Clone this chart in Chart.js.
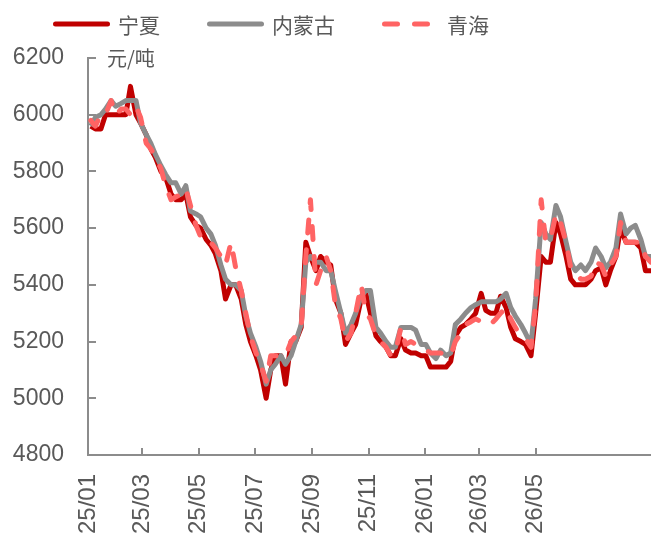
<!DOCTYPE html>
<html>
<head>
<meta charset="utf-8">
<script src="https://cdn.jsdelivr.net/npm/chart.js@4.4.1/dist/chart.umd.min.js"></script>
<style>
    html, body { margin: 0; padding: 0; background: #fff; }
    #wrap { width: 651px; height: 540px; position: relative; }
</style>
</head>
<body>
<div id="wrap"><canvas id="chart1"></canvas></div>
<script>
// days since 2025-01-01
var dayIndex = [
    3, 8, 14, 19, 25, 30, 36, 41, 46, 52, 57, 63, 68, 73, 79, 84, 90, 95, 101, 106,
    111, 117, 122, 128, 133, 138, 144, 149, 155, 160, 166, 171, 176, 182, 187, 193, 198, 203, 209, 214,
    220, 225, 231, 236, 241, 247, 252, 258, 263, 268, 274, 279, 285, 290, 296, 301, 306, 312, 317, 323,
    328, 333, 339, 344, 350, 355, 361, 366, 371, 377, 382, 388, 393, 398, 404, 409, 415, 420, 426, 431,
    436, 442, 447, 453, 458, 463, 469, 474, 480, 485, 491, 496, 501, 507, 512, 518, 523, 528, 534, 539,
    545, 550, 556, 561, 566, 572, 577, 583, 588, 593, 599, 604, 610
];

var ningxia = [
    5960, 5950, 5950, 6000, 6000, 6000, 6000, 6000, 6100, 6000, 5970, 5930, 5880, 5850, 5800, 5780, 5720, 5700, 5700, 5720,
    5640, 5610, 5600, 5560, 5540, 5510, 5450, 5350, 5400, 5400, 5350, 5260, 5200, 5150, 5100, 5000, 5100, 5150, 5150, 5050,
    5200, 5200, 5250, 5550, 5500, 5450, 5500, 5480, 5470, 5350, 5300, 5190, 5230, 5260, 5350, 5370, 5300, 5220, 5200, 5180,
    5150, 5150, 5210, 5170, 5160, 5160, 5150, 5150, 5110, 5110, 5110, 5110, 5130, 5220, 5250, 5260, 5280, 5300, 5370, 5310,
    5300, 5300, 5360, 5320, 5250, 5210, 5200, 5190, 5150, 5300, 5500, 5480, 5480, 5620, 5580, 5500, 5420, 5400, 5400, 5400,
    5420, 5450, 5460, 5400, 5450, 5500, 5600, 5550, 5550, 5550, 5530, 5450, 5450
];

var neimenggu = [
    5960, 5990, 6000, 6020, 6050, 6030, 6040, 6050, 6050, 6050, 5970, 5930, 5900, 5860, 5820, 5790, 5760, 5760, 5720, 5750,
    5660, 5650, 5640, 5600, 5580, 5540, 5470, 5420, 5400, 5400, 5380, 5290, 5230, 5180, 5130, 5050, 5100, 5120, 5150, 5120,
    5150, 5200, 5260, 5480, 5500, 5480, 5480, 5450, 5450, 5380, 5300, 5230, 5260, 5300, 5360, 5380, 5380, 5250, 5230, 5200,
    5180, 5180, 5250, 5250, 5250, 5240, 5190, 5190, 5160, 5140, 5170, 5150, 5160, 5260, 5280, 5300, 5320, 5330, 5340, 5340,
    5340, 5340, 5350, 5370, 5320, 5290, 5260, 5230, 5190, 5350, 5620, 5580, 5560, 5680, 5640, 5550, 5480, 5450, 5470, 5450,
    5480, 5530, 5500, 5460, 5480, 5530, 5650, 5580, 5600, 5610, 5560, 5500, 5500
];

var qinghai = [
    5980, 5960, 6000, 6000, 6050, 6000, 6020, 6020, 6000, 6030, 5990, 5900, 5880, 5850, 5810, 5750, 5700, 5710, 5720, 5740,
    5680, 5610, 5570, 5570, 5550, 5530, 5500, 5470, 5550, 5460, 5380, 5300, 5220, 5160, 5120, 5060, 5150, 5150, 5150, 5150,
    5200, 5220, 5250, 5500, 5700, 5400, 5450, 5500, 5450, 5330, 5280, 5200, 5230, 5300, 5400, 5300, 5280, 5220, 5200, 5180,
    5150, 5160, 5250, 5190, 5200, 5190, 5180, 5170, 5160, 5160, 5160, 5150, 5150, 5200, 5230, 5260, 5270, 5280, 5270, 5260,
    5260, 5280, 5300, 5320, 5280, 5250, 5220, 5210, 5180, 5330, 5700, 5550, 5560, 5650, 5620, 5550, 5460, 5450, 5420, 5420,
    5430, 5480, 5470, 5430, 5470, 5500, 5620, 5550, 5550, 5550, 5550, 5500, 5480
];

var tickDays = [0, 59, 120, 181, 243, 304, 365, 424, 485];
var tickLabels = ['25/01', '25/03', '25/05', '25/07', '25/09', '25/11', '26/01', '26/03', '26/05'];
var seriesNames = ['宁夏', '内蒙古', '青海'];
var unitLabel = '元/吨';

function toPoints(values) {
    return dayIndex.map(function(d, i) { return { x: d, y: values[i] }; });
}

var axisColor = '#8c8c8c';
var textColor = '#595959';
var cjkFont = '"Noto Sans CJK SC", "Noto Sans", sans-serif';
var numFont = '"Liberation Sans", Arial, sans-serif';

// legend drawn at top, plus inside tick marks and unit label
var extras = {
    id: 'extras',
    afterDraw: function(chart) {
        var ctx = chart.ctx;
        var area = chart.chartArea;
        ctx.save();

        // inside tick marks
        ctx.strokeStyle = axisColor;
        ctx.lineWidth = 2;
        ctx.setLineDash([]);
        var xs = chart.scales.x, ys = chart.scales.y;
        xs.ticks.forEach(function(t) {
            var px = Math.round(xs.getPixelForValue(t.value));
            ctx.beginPath();
            ctx.moveTo(px, area.bottom);
            ctx.lineTo(px, area.bottom - 7);
            ctx.stroke();
        });
        ys.ticks.forEach(function(t) {
            var py = Math.round(ys.getPixelForValue(t.value));
            ctx.beginPath();
            ctx.moveTo(area.left, py);
            ctx.lineTo(area.left + 8, py);
            ctx.stroke();
        });

        // unit
        ctx.fillStyle = textColor;
        ctx.font = '20px ' + cjkFont;
        ctx.textBaseline = 'middle';
        ctx.textAlign = 'left';
        ctx.fillText(unitLabel, area.left + 19, area.top);

        // legend
        var starts = [53, 207, 382];
        chart.data.datasets.forEach(function(ds, i) {
            var x = starts[i], y = 24;
            ctx.strokeStyle = ds.borderColor;
            ctx.lineWidth = 5;
            ctx.lineCap = 'round';
            ctx.setLineDash(ds.borderDash || []);
            ctx.beginPath();
            ctx.moveTo(x + 2.5, y);
            ctx.lineTo(x + 54.5, y);
            ctx.stroke();
            ctx.setLineDash([]);
            ctx.fillStyle = textColor;
            ctx.font = '21px ' + cjkFont;
            ctx.fillText(ds.label, x + 65, y + 1);
        });
        ctx.restore();
    }
};

var ctx = document.getElementById('chart1').getContext('2d');
var myChart = new Chart(ctx, {
    type: 'line',
    data: {
        datasets: [{
            label: seriesNames[0],
            data: toPoints(ningxia),
            borderColor: '#c00000',
            backgroundColor: '#c00000',
            borderWidth: 5,
            borderJoinStyle: 'round',
            order: 3
        },
        {
            label: seriesNames[1],
            data: toPoints(neimenggu),
            borderColor: '#8c8c8c',
            backgroundColor: '#8c8c8c',
            borderWidth: 5,
            borderJoinStyle: 'round',
            order: 2
        },
        {
            label: seriesNames[2],
            data: toPoints(qinghai),
            borderColor: '#ff6464',
            backgroundColor: '#ff6464',
            borderWidth: 5,
            borderDash: [13, 17],
            borderCapStyle: 'round',
            borderJoinStyle: 'round',
            order: 1
        }]
    },
    options: {
        responsive: true,
        maintainAspectRatio: false,
        animation: false,
        devicePixelRatio: 1,
        elements: {
            point: { radius: 0, hoverRadius: 0 },
            line: { tension: 0 }
        },
        layout: {
            padding: { top: 58, right: 0, bottom: 0, left: 0 }
        },
        plugins: {
            legend: { display: false },
            tooltip: { enabled: false }
        },
        scales: {
            x: {
                type: 'linear',
                min: 0,
                max: 610,
                afterBuildTicks: function(scale) {
                    scale.ticks = tickDays.map(function(v) { return { value: v }; });
                },
                afterFit: function(scale) { scale.height = 85; },
                grid: { display: false, drawTicks: false },
                border: { display: true, color: axisColor, width: 2 },
                ticks: {
                    autoSkip: false,
                    minRotation: 90,
                    maxRotation: 90,
                    padding: 19,
                    color: textColor,
                    font: { family: numFont, size: 24 },
                    callback: function(value) {
                        var i = tickDays.indexOf(value);
                        return i >= 0 ? tickLabels[i] : '';
                    }
                }
            },
            y: {
                min: 4800,
                max: 6200,
                afterFit: function(scale) { scale.width = 88; },
                grid: { display: false, drawTicks: false },
                border: { display: true, color: axisColor, width: 2 },
                ticks: {
                    stepSize: 200,
                    padding: 24,
                    color: textColor,
                    font: { family: numFont, size: 23 },
                    callback: function(value) { return String(value); }
                }
            }
        }
    },
    plugins: [extras]
});
</script>
</body>
</html>
